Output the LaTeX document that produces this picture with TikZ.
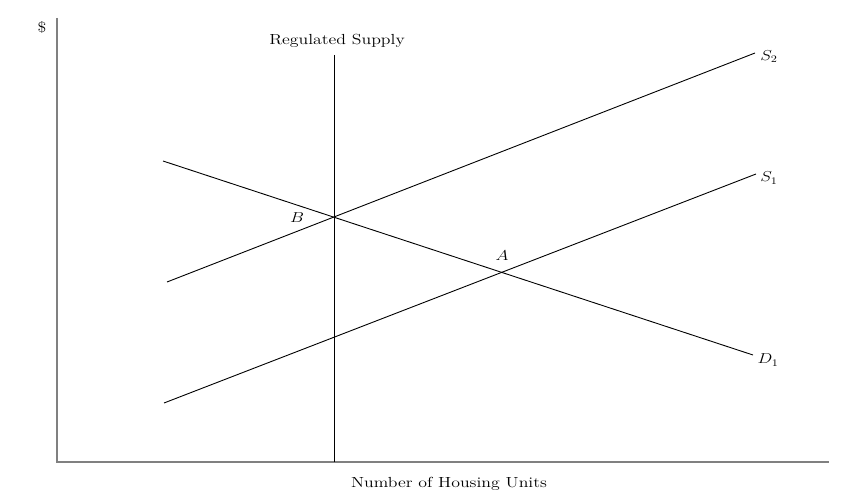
\documentclass[tikz,border=0pt]{standalone}
\begin{document}
\begin{tikzpicture}[x=1pt,y=1pt,
  lbl/.style={font=\fontsize{14.6}{17}\selectfont, inner sep=0pt, xscale=1.22},
  axis/.style={draw=black!50, line width=1.3pt},
  curve/.style={draw=black, line width=0.9pt}]
\useasboundingbox (0,0) rectangle (850,-500);
% axes
\coordinate (ytop) at (57,-18);
\coordinate (orig) at (57,-462);
\coordinate (xend) at (829,-462);
\draw[axis] (ytop) -- (orig) -- (xend);
\node[lbl] (dollar) at (42,-27) {\$};
\node[lbl] (xlab) at (449,-484) {Number of Housing Units};
% regulated supply
\coordinate (rtop) at (334,-55);
\coordinate (rbot) at (334,-462);
\draw[curve] (rtop) -- (rbot);
\node[lbl] (rlab) at (337,-41) {Regulated Supply};
% S2
\coordinate (s2a) at (167,-282);
\coordinate (s2b) at (755,-53);
\draw[curve] (s2a) -- (s2b);
\node[lbl] (s2lab) at (769,-57) {$S_2$};
% S1
\coordinate (s1a) at (164,-403);
\coordinate (s1b) at (756,-174);
\draw[curve] (s1a) -- (s1b);
\node[lbl] (s1lab) at (769,-178) {$S_1$};
% D1
\coordinate (d1a) at (163,-161);
\coordinate (d1b) at (753,-355);
\draw[curve] (d1a) -- (d1b);
\node[lbl] (d1lab) at (768,-360) {$D_1$};
% points
\node[lbl] (blab) at (297,-218) {$B$};
\node[lbl] (alab) at (502,-256) {$A$};
\end{tikzpicture}
\end{document}
